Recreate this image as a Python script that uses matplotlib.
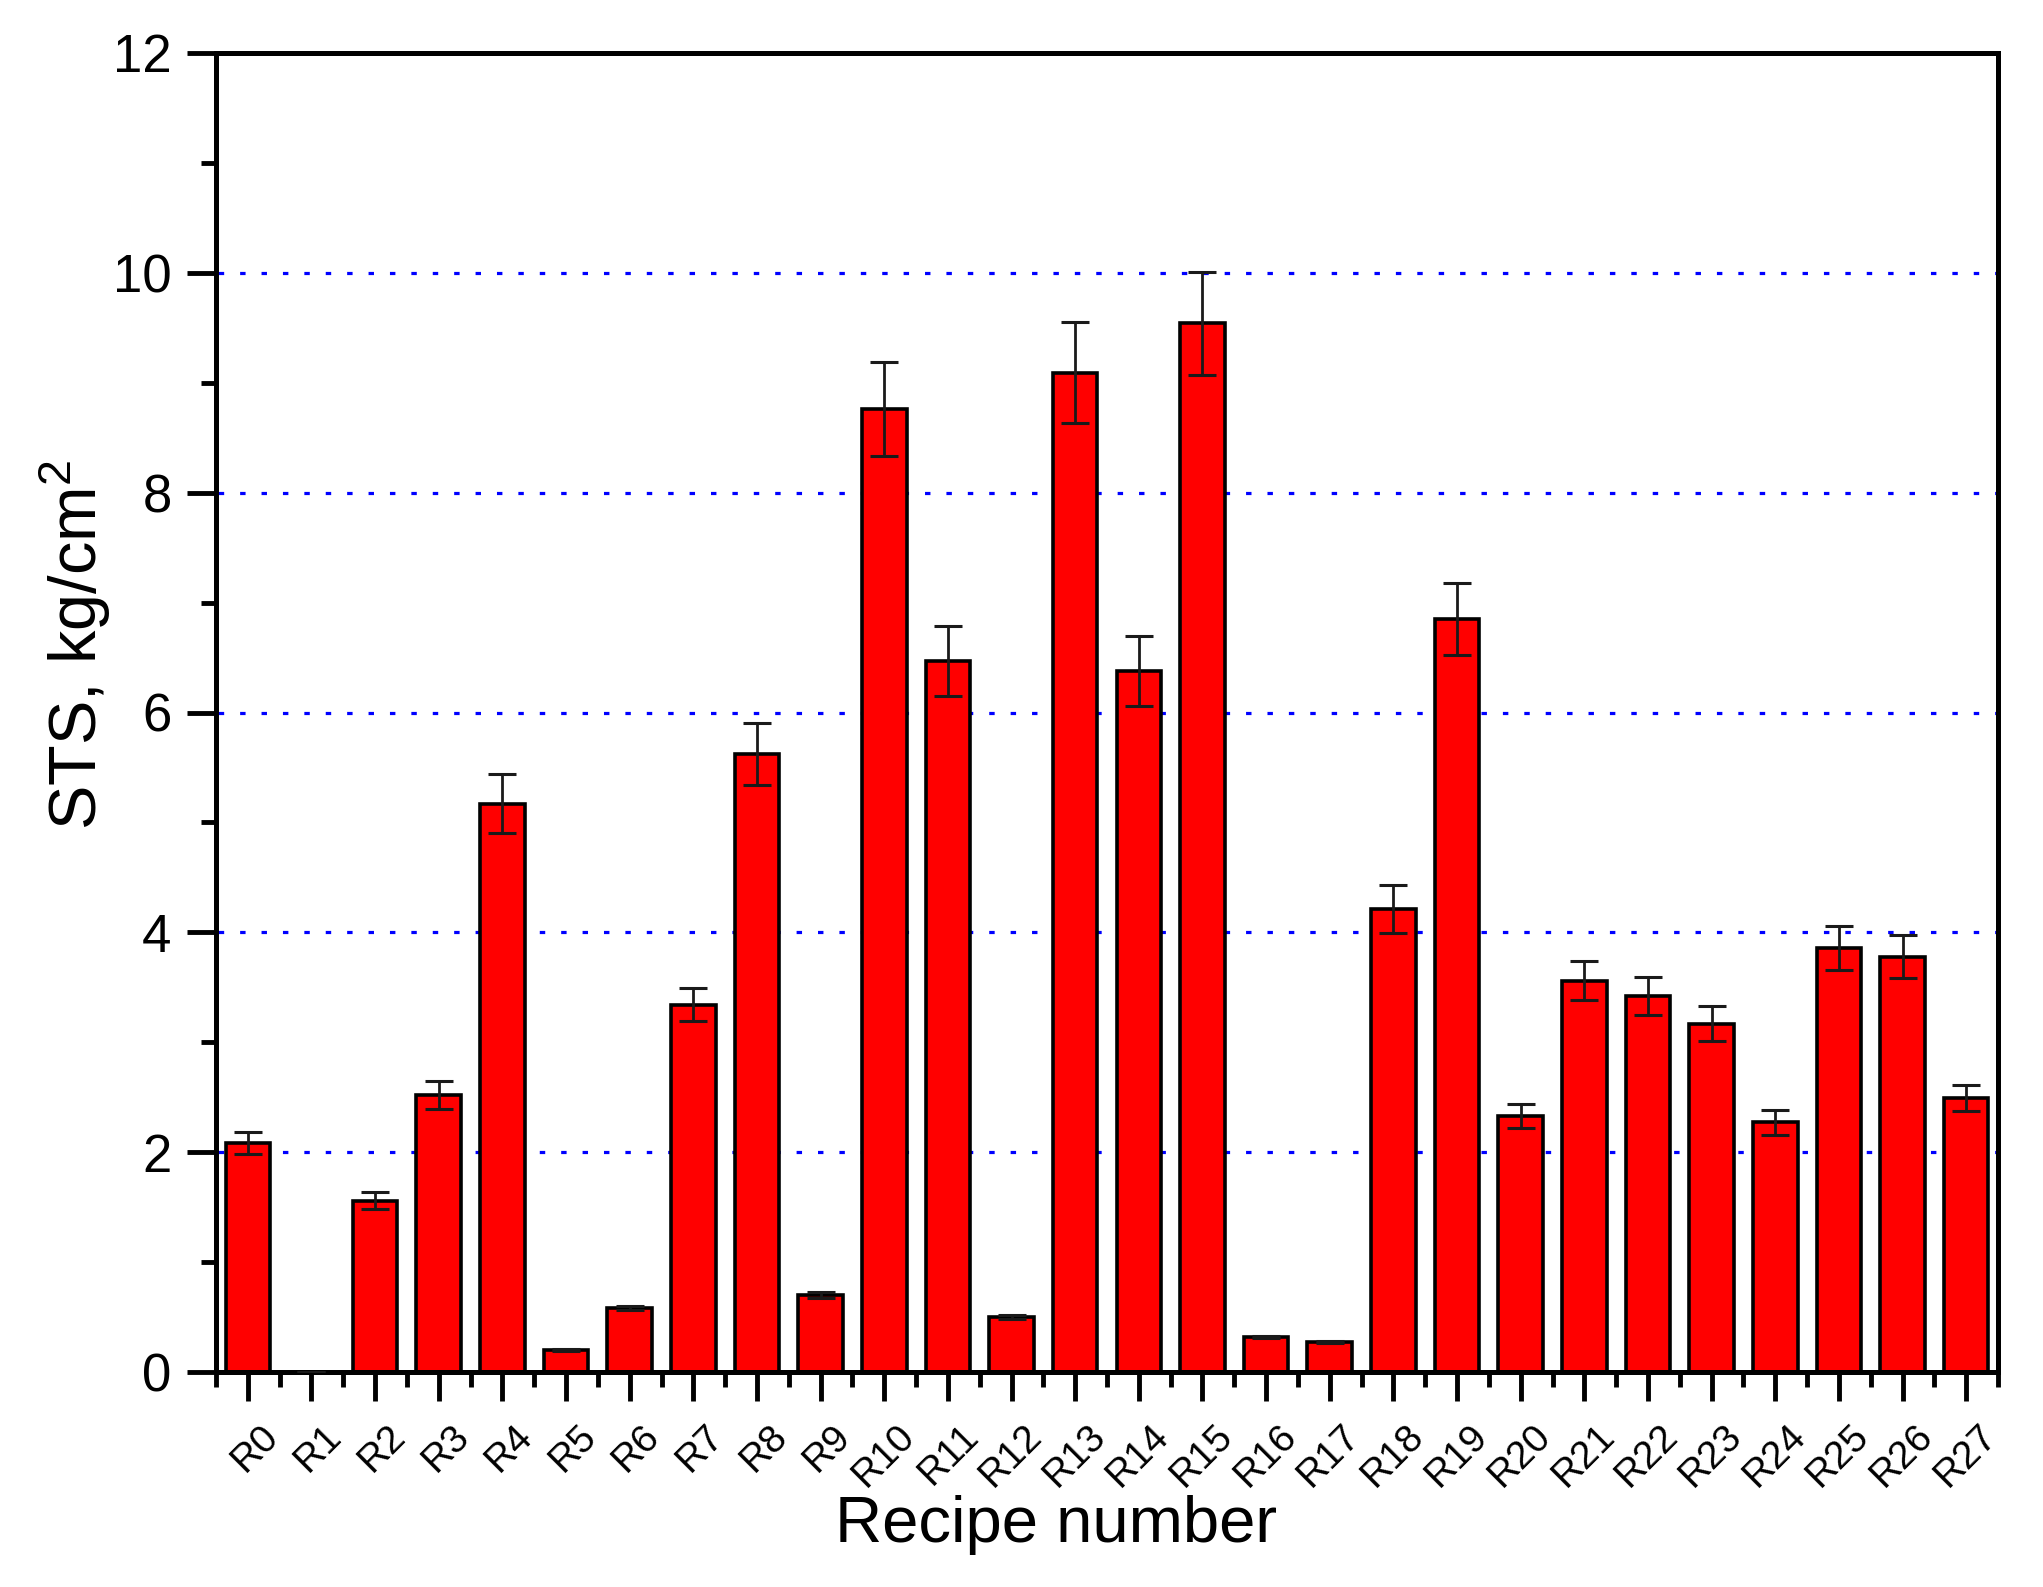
import numpy as np
import matplotlib
matplotlib.use("Agg")
import matplotlib.pyplot as plt
from matplotlib.ticker import MultipleLocator, FixedLocator
from matplotlib.transforms import ScaledTranslation

plt.rcParams['font.family'] = ['Liberation Sans', 'DejaVu Sans']
plt.rcParams['mathtext.fontset'] = 'custom'
plt.rcParams['mathtext.rm'] = 'Liberation Sans'
plt.rcParams['mathtext.it'] = 'Liberation Sans'

recipes = ["R%d" % i for i in range(28)]
sts = [2.08, 0.0, 1.56, 2.52, 5.17, 0.20, 0.58, 3.34, 5.62, 0.70,
       8.76, 6.47, 0.50, 9.09, 6.38, 9.54, 0.32, 0.27, 4.21, 6.85,
       2.33, 3.56, 3.42, 3.17, 2.27, 3.86, 3.78, 2.49]
sts_err = [0.10, 0.0, 0.08, 0.13, 0.27, 0.01, 0.02, 0.15, 0.28, 0.03,
           0.43, 0.32, 0.02, 0.46, 0.32, 0.47, 0.01, 0.01, 0.22, 0.33,
           0.11, 0.18, 0.17, 0.16, 0.11, 0.20, 0.20, 0.12]

W, H = 2043, 1587
fig = plt.figure(figsize=(W / 100, H / 100), dpi=100)
ax = fig.add_axes([216 / W, 1 - 1372 / H, (1998 - 216) / W, (1372 - 53) / H])

x = np.arange(len(recipes))
ax.bar(x, sts, width=0.7, color='#ff0000', edgecolor='black', linewidth=2.6, zorder=2)
ax.errorbar(x, sts, yerr=sts_err, fmt='none', ecolor='#1a1a1a', elinewidth=2,
            capsize=10, capthick=2.2, zorder=3)

ax.set_xlim(-0.5, 27.5)
ax.set_ylim(0, 12)

# dotted blue gridlines
for g in [2, 4, 6, 8, 10]:
    ax.axhline(g, color='#0000ff', linewidth=2.3, linestyle=(6, (1.7, 5.0)), zorder=1)

for s in ax.spines.values():
    s.set_linewidth(3.6)
    s.set_color('black')

ax.yaxis.set_major_locator(MultipleLocator(2))
ax.yaxis.set_minor_locator(MultipleLocator(1))
ax.xaxis.set_major_locator(FixedLocator(x))
ax.xaxis.set_minor_locator(FixedLocator(np.arange(-0.5, 28, 1.0)))
ax.set_xticklabels(recipes)

ax.tick_params(axis='both', which='major', direction='out', length=21, width=3.5)
ax.tick_params(axis='both', which='minor', direction='out', length=11, width=3.5)
ax.tick_params(axis='y', which='major', labelsize=38, pad=11)
ax.tick_params(axis='x', which='major', labelsize=28, pad=12)
ax.tick_params(top=False, right=False, which='both')

shift = ScaledTranslation(12 / 100, 0, fig.dpi_scale_trans)
for lab in ax.get_xticklabels():
    lab.set_rotation(45)
    lab.set_ha('right')
    lab.set_va('top')
    lab.set_rotation_mode('anchor')
    lab.set_transform(lab.get_transform() + shift)

fig.text(1056 / W, 1 - 1542 / H, "Recipe number", fontsize=47, ha='center', va='baseline')
fig.text(75 / W, 1 - 645 / H, "STS, kg/cm$^2$", fontsize=48, rotation=90,
         ha='center', va='center')

fig.savefig("out.png", dpi=100)
